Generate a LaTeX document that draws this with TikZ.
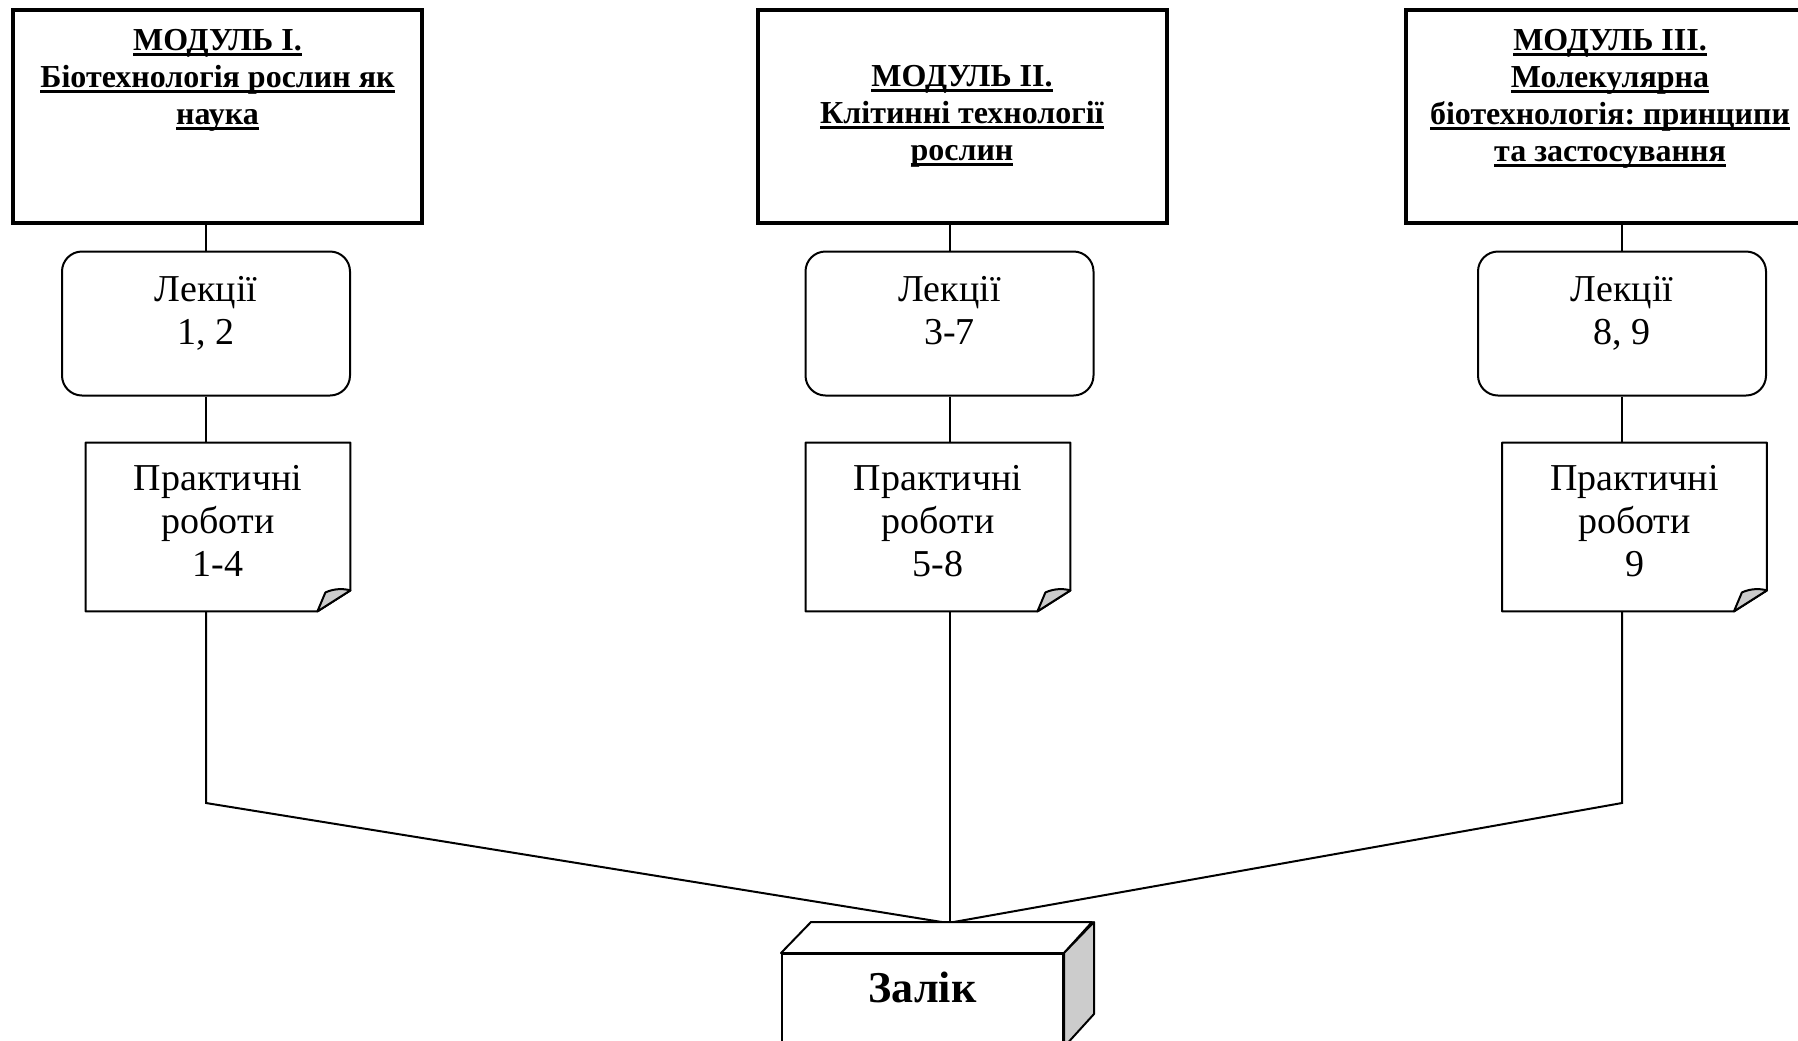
\documentclass[tikz,border=0pt]{standalone}
\usepackage{fontspec}
\setmainfont{Liberation Serif}
\usetikzlibrary{calc}
\definecolor{foldgray}{HTML}{CCCCCC}
\newsavebox{\ulinebox}
\newcommand{\modline}[1]{\sbox{\ulinebox}{#1}\rlap{\rule[-2.6pt]{\wd\ulinebox}{1.6pt}}\usebox{\ulinebox}}
\frenchspacing

\begin{document}
\begin{tikzpicture}[
    x=0.5pt, y=-0.5pt,
    every node/.style={font=\fontsize{19}{21.5}\selectfont},
    modbox/.style={draw, line width=2pt, minimum width=204.5pt, minimum height=106.5pt, inner sep=0pt},
    modtitle/.style={font=\fontsize{16}{18.5}\selectfont\bfseries, align=center, anchor=north, inner sep=0pt},
    lecbox/.style={draw, line width=1pt, rounded corners=10pt, minimum width=144pt, minimum height=72pt,
        align=center, text depth=13pt},
    pracnode/.style={minimum width=132pt, minimum height=84pt, align=center, text depth=6pt},
    pracline/.style={line width=1pt, line join=round},
    fold/.style={line width=1pt, fill=foldgray, line join=round},
    link/.style={line width=1pt},
]

\useasboundingbox (0,0) rectangle (1798,1040);

% the three modules
\node[modbox] (m1) at (217.5, 116.5) {};
\node[modbox] (m2) at (962, 116.5) {};
\node[modbox] (m3) at (1610, 116.5) {};
\node[modtitle] (t1) at ($(m1.north)+(0,21)$)
    {\modline{МОДУЛЬ І.}\\\modline{Біотехнологія рослин як}\\\modline{наука}};
\node[modtitle, anchor=center] (t2) at (m2)
    {\modline{МОДУЛЬ ІІ.}\\\modline{Клітинні технології}\\\modline{рослин}};
\node[modtitle] (t3) at ($(m3.north)+(0,21)$)
    {\modline{МОДУЛЬ ІІІ.}\\\modline{Молекулярна}\\\modline{біотехнологія: принципи}\\\modline{та застосування}};

% lectures and practical works under each module
\foreach \n/\lx/\px/\lec/\prac in {1/206/218/{1, 2}/1-4, 2/949.5/938/3-7/5-8, 3/1622/1634.5/{8, 9}/9}{
    \node[lecbox] (l\n) at (\lx, 323.5) {Лекції\\\lec};
    \node[pracnode] (p\n) at (\px, 527) {Практичні\\роботи\\\prac};
    \draw[pracline] (p\n.south west) -- (p\n.north west) -- (p\n.north east)
        -- ($(p\n.south east)+(0,-21)$) -- ($(p\n.south east)+(-33,0)$) -- cycle;
    \filldraw[fold] ($(p\n.south east)+(-33,0)$) -- ($(p\n.south east)+(-25,-19)$)
        .. controls ($(p\n.south east)+(-16,-23)$) and ($(p\n.south east)+(-7,-23)$)
        .. ($(p\n.south east)+(0,-21)$) -- cycle;
    \draw[link] (l\n.north) -- (l\n.north |- m\n.south);
    \draw[link] (l\n.south) -- (l\n.south |- p\n.north);
}

% everything meets at the test
\coordinate (join) at (948, 923);
\coordinate (rail) at (0, 803);
\draw[link] (l1 |- p1.south) -- (l1 |- rail) -- (join);
\draw[link] (l2 |- p2.south) -- (l2 |- join);
\draw[link] (l3 |- p3.south) -- (l3 |- rail) -- (join);

% the test block
\node[draw, line width=1pt, fill=white, minimum width=140.5pt, minimum height=46pt,
    font=\fontsize{22}{26}\selectfont\bfseries, text depth=13pt] (zalik) at (922.5, 1000) {Залік};
\draw[line width=1pt, line join=round, fill=white] (zalik.north west) -- ++(30,-31) -- ++(281,0)
    -- (zalik.north east) -- cycle;
\draw[line width=1pt, line join=round, fill=foldgray] (zalik.north east) -- ++(30,-31) -- ++(0,92)
    -- (zalik.south east) -- cycle;

\end{tikzpicture}
\end{document}
